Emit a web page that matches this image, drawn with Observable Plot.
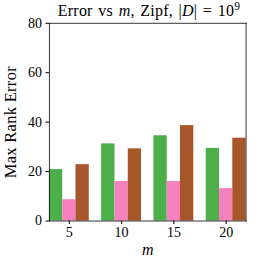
<!DOCTYPE html>
<html><head><meta charset="utf-8">
<script src="https://cdn.jsdelivr.net/npm/d3@7"></script>
<script src="https://cdn.jsdelivr.net/npm/@observablehq/plot@0.6"></script>
<style>
body{margin:0;background:#fff}
#wrap{position:relative;width:259px;height:259px}
#title{position:absolute;left:39px;width:220px;top:1px;text-align:center;font-family:"Liberation Serif",serif;font-size:16px;letter-spacing:0.2px;word-spacing:1.5px;line-height:19px;color:#000;white-space:nowrap}
#title sup{font-size:11.5px;line-height:0;vertical-align:6px}
#wrap svg text{font-family:"Liberation Serif",serif}
g[aria-label="y-axis tick label"] text, g[aria-label="fx-axis tick label"] text{font-size:14px}
g[aria-label="y-axis label"] text{font-size:16.5px;letter-spacing:0.3px}
g[aria-label="fx-axis label"] text{font-style:italic;font-size:16px}
</style></head><body><div id="wrap"><div id="title">Error vs <i>m</i>, Zipf, |<i>D</i>| = 10<sup>9</sup></div></div>
<script>
const mValues = [5, 10, 15, 20];
const seriesNames = ["s1", "s2", "s3"];
const series1 = [20.8, 31.2, 34.5, 29.4];
const series2 = [8.6, 16.0, 16.0, 13.1];
const series3 = [22.8, 29.2, 38.6, 33.5];
const yTicks = [0, 20, 40, 60, 80];
const colors = ["#4daf4a", "#f781bf", "#a65628"];

const allSeries = [series1, series2, series3];
const data = [];
mValues.forEach((m, i) => seriesNames.forEach((s, j) => data.push({m, s, v: allSeries[j][i]})));

const chart = Plot.plot({
  width: 259, height: 259,
  marginLeft: 39, marginRight: 3.5, marginTop: 22.8, marginBottom: 38.5,
  style: {fontFamily: "Liberation Serif, serif", fontSize: "14px", background: "white", color: "black"},
  fx: {domain: mValues, paddingInner: 0.238, paddingOuter: 0.19, round: false},
  x: {domain: seriesNames, paddingInner: 0, paddingOuter: 0, round: false, axis: null},
  y: {domain: [0, 80]},
  color: {domain: seriesNames, range: colors},
  marks: [
    Plot.barY(data, {fx: "m", x: "s", y: "v", fill: "s", insetLeft: 0, insetRight: 0}),
    Plot.frame({anchor: "left", facet: "super", stroke: "black", strokeWidth: 0.8}),
    Plot.frame({anchor: "right", facet: "super", stroke: "black", strokeWidth: 0.8}),
    Plot.frame({anchor: "top", facet: "super", stroke: "black", strokeWidth: 0.8}),
    Plot.frame({anchor: "bottom", facet: "super", stroke: "black", strokeWidth: 0.8}),
    Plot.axisY({ticks: yTicks, tickSize: 3.5, tickPadding: 4, label: "Max Rank Error", labelAnchor: "center", labelOffset: 45, labelArrow: "none"}),
    Plot.axisFx({anchor: "bottom", tickSize: 3.5, tickPadding: 3, label: "m", labelAnchor: "center", labelOffset: 34, labelArrow: "none"})
  ]
});
document.getElementById("wrap").appendChild(chart);
</script></body></html>
